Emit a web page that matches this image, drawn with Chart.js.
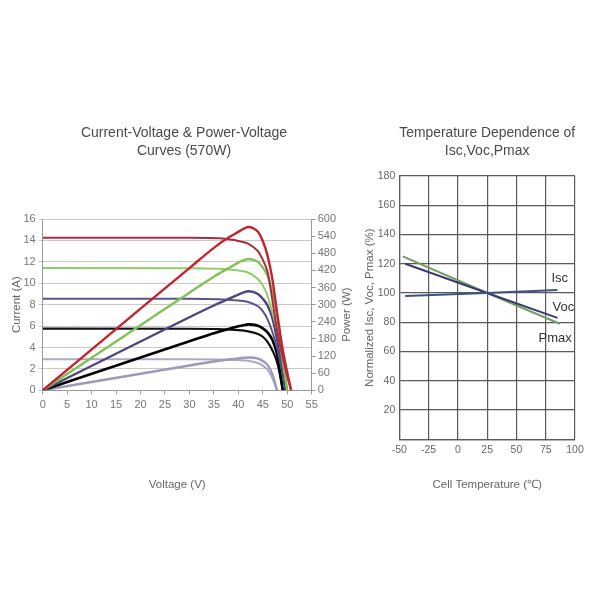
<!DOCTYPE html>
<html>
<head>
<meta charset="utf-8">
<script src="https://cdn.jsdelivr.net/npm/chart.js@4.4.0/dist/chart.umd.min.js"></script>
<style>
  html, body { margin: 0; padding: 0; background: #fff; }
  #page { position: relative; width: 600px; height: 600px; overflow: hidden; }
  .box { position: absolute; }
</style>
</head>
<body>
<div id="page">
  <div class="box" style="left:0;top:100px;width:368px;height:400px"><canvas id="ivChart"></canvas></div>
  <div class="box" style="left:340px;top:100px;width:260px;height:400px"><canvas id="tempChart"></canvas></div>
</div>
<script>
// ---- I-V / P-V curves, one irradiance level per colour ----
const redIvVolts = [0, 30, 36, 38, 40, 42, 44, 45, 46, 47, 48, 49, 50, 50.8];
const redIvAmps = [14.26, 14.25, 14.2, 14.1, 13.95, 13.7, 13.0, 12.2, 11.0, 8.3, 5.4, 3.2, 1.3, 0];
const redPvVolts = [0, 20, 30, 35, 38, 40, 41, 42, 43, 44, 45, 46, 47, 48, 49, 50, 50.8];
const redPvWatts = [0, 286, 428, 499, 535, 555, 565, 572, 568, 555, 523, 470, 385, 262, 150, 62, 0];

const greenIvVolts = [0, 30, 36, 38, 40, 42, 44, 45, 46, 47, 48, 49, 50];
const greenIvAmps = [11.42, 11.41, 11.35, 11.28, 11.2, 11.0, 10.4, 9.8, 8.8, 7.2, 5.5, 2.9, 0];
const greenPvVolts = [0, 20, 30, 35, 38, 40, 41, 42, 43, 44, 45, 46, 47, 48, 49, 50];
const greenPvWatts = [0, 228, 342, 398, 428, 447, 455, 460, 458, 450, 430, 400, 342, 255, 125, 0];

const purpleIvVolts = [0, 30, 36, 38, 40, 42, 44, 45, 46, 47, 48, 49, 49.6];
const purpleIvAmps = [8.56, 8.55, 8.5, 8.45, 8.38, 8.25, 7.85, 7.4, 6.6, 5.4, 3.8, 1.6, 0];
const purplePvVolts = [0, 20, 30, 35, 38, 40, 41, 42, 43, 44, 45, 46, 47, 48, 49, 49.6];
const purplePvWatts = [0, 171, 256, 297, 320, 335, 342, 347, 345, 337, 321, 296, 250, 170, 70, 0];

const blackIvVolts = [0, 30, 36, 38, 40, 42, 44, 45, 46, 47, 48, 49.1];
const blackIvAmps = [5.76, 5.75, 5.72, 5.68, 5.62, 5.5, 5.25, 5.0, 4.5, 3.7, 2.5, 0];
const blackPvVolts = [0, 20, 30, 35, 38, 40, 41, 42, 43, 44, 45, 46, 47, 48, 49.1];
const blackPvWatts = [0, 115, 172, 200, 215, 224, 228, 231, 230, 226, 217, 202, 175, 120, 0];

const greyIvVolts = [0, 30, 36, 38, 40, 42, 44, 45, 46, 47, 47.9];
const greyIvAmps = [2.9, 2.9, 2.88, 2.85, 2.82, 2.75, 2.55, 2.3, 1.9, 1.1, 0];
const greyPvVolts = [0, 20, 30, 35, 38, 40, 42, 43, 44, 45, 46, 47, 47.9];
const greyPvWatts = [0, 58, 87, 101, 108, 112, 115, 114, 111, 103, 88, 55, 0];

// ---- temperature dependence (normalized %, vs cell temperature) ----
const iscTemps = [-45, 25, 85];
const iscPct = [98, 100, 102];
const vocTemps = [-45, 25, 85];
const vocPct = [120, 100, 83];
const pmaxTemps = [-47, 25, 87];
const pmaxPct = [125, 100, 79];
const tempSeriesNames = ['Isc', 'Voc', 'Pmax'];

const pts = (xs, ys) => xs.map((x, i) => ({ x: x, y: ys[i] }));

Chart.defaults.font.family = '"Liberation Sans", Arial, sans-serif';
Chart.defaults.color = '#777';

function curve(label, xs, ys, color, width, axis) {
    return {
        label: label,
        data: pts(xs, ys),
        borderColor: color,
        backgroundColor: color,
        borderWidth: width,
        pointRadius: 0,
        fill: false,
        cubicInterpolationMode: 'monotone',
        yAxisID: axis
    };
}

// right-hand "Power (W)" title reads bottom-to-top in the original
const powerTitle = {
    id: 'powerTitle',
    afterDraw(chart) {
        const ctx = chart.ctx;
        const s = chart.scales.y1;
        ctx.save();
        ctx.translate(s.right - 21, (chart.chartArea.top + chart.chartArea.bottom) / 2 + 10);
        ctx.rotate(-Math.PI / 2);
        ctx.fillStyle = '#666';
        ctx.font = '11.5px "Liberation Sans", Arial, sans-serif';
        ctx.textAlign = 'center';
        ctx.textBaseline = 'middle';
        ctx.fillText('Power (W)', 0, 0);
        ctx.restore();
    }
};

new Chart(document.getElementById('ivChart'), {
    type: 'line',
    data: {
        datasets: [
            curve('Red P-V', redPvVolts, redPvWatts, '#c52330', 2.4, 'y1'),
            curve('Red I-V', redIvVolts, redIvAmps, '#a52d40', 2, 'y'),
            curve('Green P-V', greenPvVolts, greenPvWatts, '#80c256', 2.4, 'y1'),
            curve('Green I-V', greenIvVolts, greenIvAmps, '#8fcc6c', 2, 'y'),
            curve('Purple P-V', purplePvVolts, purplePvWatts, '#4e467c', 2.4, 'y1'),
            curve('Purple I-V', purpleIvVolts, purpleIvAmps, '#5b5486', 2, 'y'),
            curve('Black P-V', blackPvVolts, blackPvWatts, '#000000', 2.6, 'y1'),
            curve('Black I-V', blackIvVolts, blackIvAmps, '#111111', 2.2, 'y'),
            curve('Grey P-V', greyPvVolts, greyPvWatts, '#9d99bd', 2.4, 'y1'),
            curve('Grey I-V', greyIvVolts, greyIvAmps, '#abaac2', 2, 'y')
        ]
    },
    options: {
        responsive: true,
        maintainAspectRatio: false,
        animation: false,
        layout: { padding: 0 },
        plugins: {
            legend: { display: false },
            tooltip: { enabled: false },
            title: {
                display: true,
                text: ['Current-Voltage & Power-Voltage', 'Curves (570W)'],
                color: '#4a4a4a',
                font: { size: 14, weight: 'normal', lineHeight: 1.3 },
                padding: { top: 24, bottom: 58.6 }
            }
        },
        scales: {
            x: {
                type: 'linear', min: 0, max: 55,
                ticks: { stepSize: 5, autoSkip: false, maxRotation: 0, color: '#777', font: { size: 11 }, padding: 4 },
                grid: { drawOnChartArea: false, color: '#999', tickLength: 4 },
                border: { color: '#999' },
                title: { display: true, text: 'Voltage (V)', color: '#666', font: { size: 11.5 }, padding: { top: 0, bottom: 8 } },
                afterFit: s => { s.height = 109.7; s.paddingLeft = 0; s.paddingRight = 0; }
            },
            y: {
                position: 'left', min: 0, max: 16,
                ticks: { stepSize: 2, autoSkip: false, color: '#777', font: { size: 11 }, padding: 3 },
                grid: { color: '#c8c8c8', tickLength: 4 },
                border: { color: '#999' },
                title: { display: true, text: 'Current (A)', color: '#666', font: { size: 11.5 }, padding: { top: 10 } },
                afterFit: s => { s.width = 42.7; s.paddingTop = 0; s.paddingBottom = 0; }
            },
            y1: {
                position: 'right', min: 0, max: 600,
                ticks: { stepSize: 60, autoSkip: false, color: '#777', font: { size: 11 }, padding: 2 },
                grid: { drawOnChartArea: false, color: '#999', tickLength: 4 },
                border: { color: '#999' },
                afterFit: s => { s.width = 56.3; s.paddingTop = 0; s.paddingBottom = 0; }
            }
        }
    },
    plugins: [powerTitle]
});

// labels next to the line ends (in data units)
const tempLabelAt = [[87, 110], [90, 90], [83, 69]];
const seriesLabels = {
    id: 'seriesLabels',
    afterDatasetsDraw(chart) {
        const ctx = chart.ctx;
        const sx = chart.scales.x, sy = chart.scales.y;
        ctx.save();
        ctx.fillStyle = '#333';
        ctx.font = '13px "Liberation Sans", Arial, sans-serif';
        ctx.textAlign = 'center';
        ctx.textBaseline = 'middle';
        tempSeriesNames.forEach((name, i) => {
            ctx.fillText(name, sx.getPixelForValue(tempLabelAt[i][0]), sy.getPixelForValue(tempLabelAt[i][1]));
        });
        ctx.restore();
    }
};

function tempLine(label, xs, ys, color) {
    return {
        label: label,
        data: pts(xs, ys),
        borderColor: color,
        backgroundColor: color,
        borderWidth: 2,
        pointRadius: 0,
        fill: false,
        tension: 0
    };
}

new Chart(document.getElementById('tempChart'), {
    type: 'line',
    data: {
        datasets: [
            tempLine('Isc', iscTemps, iscPct, '#3e5282'),
            tempLine('Voc', vocTemps, vocPct, '#3b3a6c'),
            tempLine('Pmax', pmaxTemps, pmaxPct, '#6fa05e')
        ]
    },
    options: {
        responsive: true,
        maintainAspectRatio: false,
        animation: false,
        layout: { padding: { right: 25 } },
        plugins: {
            legend: { display: false },
            tooltip: { enabled: false },
            title: {
                display: true,
                fullSize: false,
                text: ['Temperature Dependence of', 'Isc,Voc,Pmax'],
                color: '#4a4a4a',
                font: { size: 14, weight: 'normal', lineHeight: 1.3 },
                padding: { top: 24, bottom: 15.6 }
            }
        },
        scales: {
            x: {
                type: 'linear', min: -50, max: 100,
                ticks: { stepSize: 25, autoSkip: false, maxRotation: 0, color: '#666', font: { size: 10.5 }, padding: 5 },
                grid: { color: '#5a5a5a', lineWidth: 1.2, drawTicks: false },
                border: { color: '#5a5a5a', width: 1.2 },
                title: { display: true, text: 'Cell Temperature (\u2103)', color: '#666', font: { size: 11.5 }, padding: { top: 0, bottom: 8 } },
                afterFit: s => { s.height = 60.7; s.paddingLeft = 0; s.paddingRight = 0; }
            },
            y: {
                min: 0, max: 180,
                ticks: { stepSize: 20, autoSkip: false, color: '#666', font: { size: 10.5 }, padding: 4,
                    callback: v => (v === 0 ? '' : v) },
                grid: { color: '#5a5a5a', lineWidth: 1.2, drawTicks: false },
                border: { color: '#5a5a5a', width: 1.2 },
                title: { display: true, text: 'Normalized Isc, Voc, Pmax (%)', color: '#666', font: { size: 11.5 }, padding: { top: 23 } },
                afterFit: s => { s.width = 59.3; s.paddingTop = 0; s.paddingBottom = 0; }
            }
        }
    },
    plugins: [seriesLabels]
});
</script>
</body>
</html>
